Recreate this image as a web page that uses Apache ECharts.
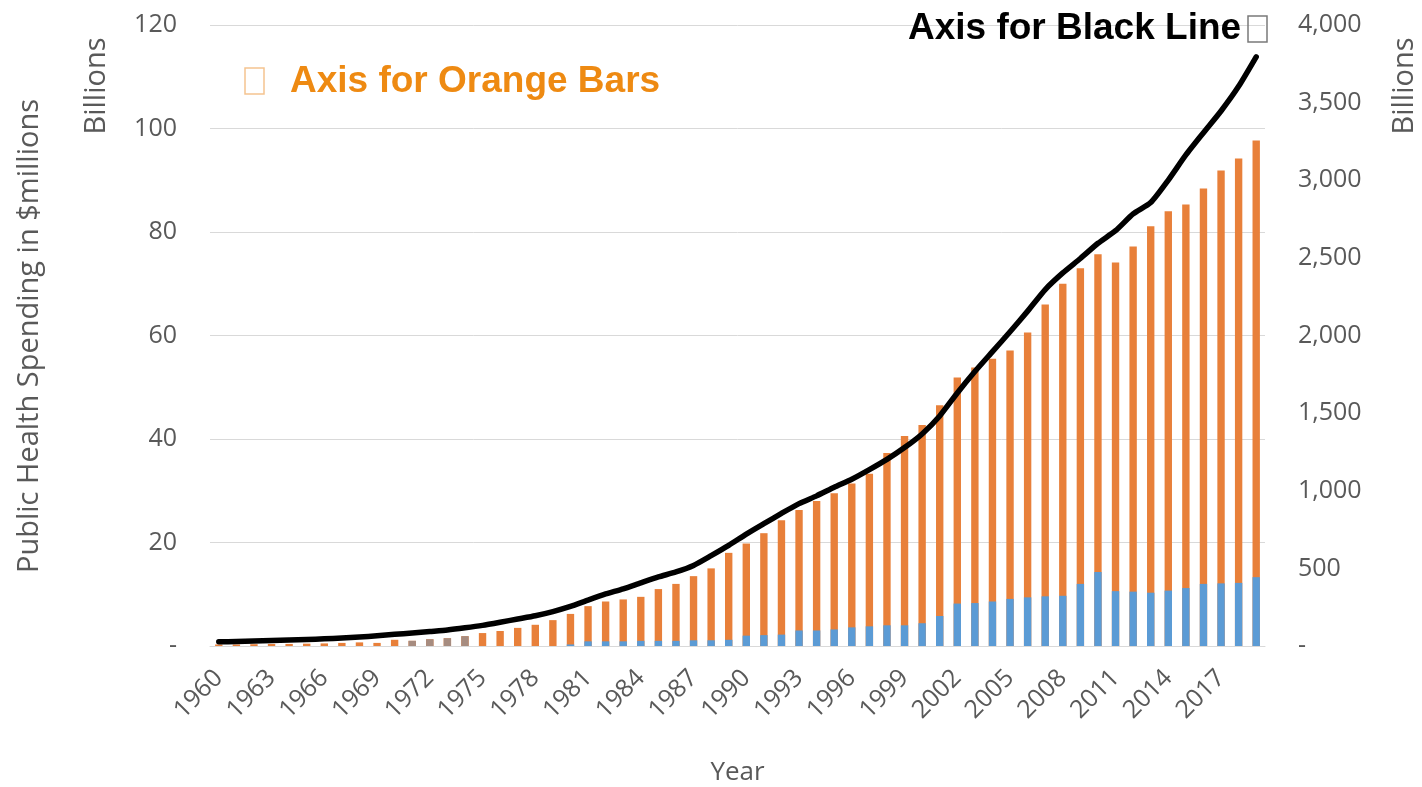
<!DOCTYPE html>
<html>
<head>
<meta charset="utf-8">
<script src="https://cdn.jsdelivr.net/npm/echarts@6/dist/echarts.min.js"></script>
<style>
  html, body { margin: 0; padding: 0; background: #fff; }
  #chart { width: 1422px; height: 787px; }
</style>
</head>
<body>
<div id="chart"></div>
<script>
// ---- Data ----
const years = [];
for (let y = 1960; y <= 2019; y++) years.push(String(y));

// Orange bars: left axis, billions
const orangeVals = [
  0.3, 0.3, 0.35, 0.4, 0.4, 0.45, 0.5, 0.6, 0.7, 0.6,
  1.2, 1.0, 1.3, 1.5, 1.9, 2.5, 2.9, 3.5, 4.1, 5.0,
  6.2, 7.7, 8.6, 9.0, 9.5, 11.0, 12.0, 13.5, 15.0, 18.0,
  19.8, 21.8, 24.3, 26.3, 28.0, 29.5, 31.4, 33.3, 37.3, 40.6,
  42.7, 46.5, 51.9, 53.8, 55.5, 57.1, 60.6, 66.0, 70.0, 73.0,
  75.7, 74.1, 77.2, 81.1, 84.0, 85.3, 88.4, 91.9, 94.2, 97.7
];
// Greyish bars (1971-1974) drawn over the orange ones
const grayVals = [
  null, null, null, null, null, null, null, null, null, null,
  null, 1.0, 1.3, 1.5, 1.9, null, null, null, null, null,
  null, null, null, null, null, null, null, null, null, null,
  null, null, null, null, null, null, null, null, null, null,
  null, null, null, null, null, null, null, null, null, null,
  null, null, null, null, null, null, null, null, null, null
];
// Blue bars: left axis, billions
const blueVals = [
  0, 0, 0, 0, 0, 0, 0, 0, 0, 0,
  0, 0, 0, 0, 0, 0, 0, 0, 0, 0,
  0.3, 0.9, 0.9, 0.9, 1.0, 1.0, 1.0, 1.1, 1.1, 1.2,
  2.0, 2.1, 2.2, 3.0, 3.0, 3.2, 3.6, 3.8, 4.0, 4.0,
  4.4, 5.8, 8.2, 8.3, 8.6, 9.1, 9.4, 9.6, 9.7, 12.0,
  14.3, 10.6, 10.5, 10.3, 10.7, 11.2, 12.0, 12.1, 12.2, 13.3
];
// Black line: right axis, billions
const lineVals = [
  27, 29, 32, 35, 38, 42, 46, 52, 58, 66,
  75, 83, 93, 103, 117, 133, 153, 174, 195, 222,
  255, 296, 335, 368, 407, 445, 477, 519, 582, 648,
  721, 788, 854, 917, 967, 1022, 1074, 1136, 1202, 1278,
  1366, 1482, 1630, 1768, 1896, 2024, 2157, 2296, 2403, 2496,
  2594, 2675, 2783, 2856, 3001, 3163, 3306, 3446, 3605, 3795
];

const leftTicks = { min: 0, max: 120, interval: 20 };
const rightTicks = { min: 0, max: 4000, interval: 500 };

const textGray = '#595959';
const gridGray = '#D9D9D9';
const labelFont = 'Open Sans';

const chart = echarts.init(document.getElementById('chart'), null, { renderer: 'canvas' });

const option = {
  animation: false,
  backgroundColor: '#ffffff',
  grid: { left: 210, right: 157, top: 25, bottom: 141, containLabel: false, outerBoundsMode: 'none' },
  xAxis: {
    type: 'category',
    data: years,
    boundaryGap: true,
    axisLine: { show: true, lineStyle: { color: gridGray, width: 1 } },
    axisTick: { show: false },
    axisLabel: {
      interval: 2,
      rotate: 45,
      margin: 28,
      color: textGray,
      fontSize: 25,
      fontFamily: labelFont
    },
    name: 'Year',
    nameLocation: 'middle',
    nameGap: 114,
    nameTextStyle: { color: textGray, fontSize: 26, fontFamily: labelFont }
  },
  yAxis: [
    {
      type: 'value',
      position: 'left',
      min: leftTicks.min, max: leftTicks.max, interval: leftTicks.interval,
      axisLine: { show: false },
      axisTick: { show: false },
      splitLine: { show: true, lineStyle: { color: gridGray, width: 1 } },
      axisLabel: {
        margin: 33,
        color: textGray,
        fontSize: 25,
        fontFamily: labelFont,
        formatter: v => v === 0 ? '-' : String(v)
      }
    },
    {
      type: 'value',
      position: 'right',
      min: rightTicks.min, max: rightTicks.max, interval: rightTicks.interval,
      axisLine: { show: false },
      axisTick: { show: false },
      splitLine: { show: false },
      axisLabel: {
        margin: 33,
        color: textGray,
        fontSize: 25,
        fontFamily: labelFont,
        formatter: v => v === 0 ? '-' : v.toLocaleString('en-US')
      }
    }
  ],
  series: [
    {
      name: 'Orange',
      type: 'bar',
      yAxisIndex: 0,
      data: orangeVals,
      barWidth: '42%',
      barGap: '-100%',
      itemStyle: { color: '#E8803A' },
      z: 2
    },
    {
      name: 'Gray',
      type: 'bar',
      yAxisIndex: 0,
      data: grayVals,
      barWidth: '42%',
      barGap: '-100%',
      itemStyle: { color: '#A68C80' },
      z: 3
    },
    {
      name: 'Blue',
      type: 'bar',
      yAxisIndex: 0,
      data: blueVals,
      barWidth: '42%',
      barGap: '-100%',
      itemStyle: { color: '#5B9BD5' },
      z: 4
    },
    {
      name: 'Black',
      type: 'line',
      yAxisIndex: 1,
      data: lineVals,
      smooth: 0.2,
      showSymbol: false,
      symbol: 'none',
      lineStyle: { color: '#000000', width: 5.5, cap: 'round', join: 'round' },
      z: 10
    }
  ],
  graphic: [
    {
      type: 'text', x: 30, y: 336, rotation: Math.PI / 2,
      style: {
        text: 'Public Health Spending in $millions',
        textAlign: 'center', textVerticalAlign: 'middle',
        fill: textGray, font: '29px "Open Sans"'
      }
    },
    {
      type: 'text', x: 97, y: 86, rotation: Math.PI / 2,
      style: {
        text: 'Billions',
        textAlign: 'center', textVerticalAlign: 'middle',
        fill: textGray, font: '29px "Open Sans"'
      }
    },
    {
      type: 'text', x: 1405, y: 86, rotation: Math.PI / 2,
      style: {
        text: 'Billions',
        textAlign: 'center', textVerticalAlign: 'middle',
        fill: textGray, font: '29px "Open Sans"'
      }
    },
    {
      type: 'rect', shape: { x: 245, y: 68, width: 19, height: 26 },
      style: { fill: 'none', stroke: '#F5C490', lineWidth: 1.5 }, z: 20
    },
    {
      type: 'text', x: 290, y: 82,
      style: {
        text: 'Axis for Orange Bars',
        textAlign: 'left', textVerticalAlign: 'middle',
        fill: '#EE8A12', font: 'bold 37px "Liberation Sans"'
      }, z: 20
    },
    {
      type: 'text', x: 908, y: 29,
      style: {
        text: 'Axis for Black Line',
        textAlign: 'left', textVerticalAlign: 'middle',
        fill: '#000000', font: 'bold 37px "Liberation Sans"'
      }, z: 20
    },
    {
      type: 'rect', shape: { x: 1248, y: 16, width: 19, height: 26 },
      style: { fill: 'none', stroke: '#7A7A7A', lineWidth: 1.5 }, z: 20
    }
  ]
};

chart.setOption(option);
</script>
</body>
</html>
